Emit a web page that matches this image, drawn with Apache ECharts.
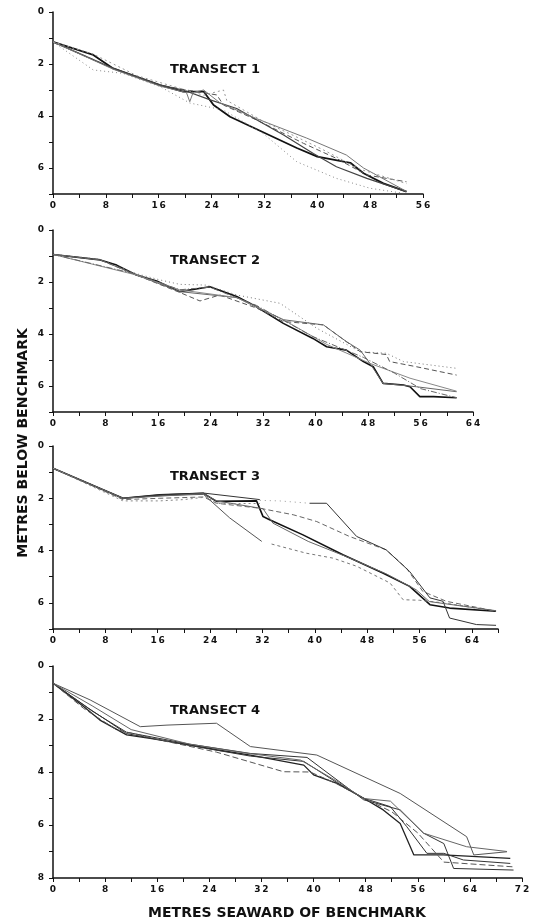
<!DOCTYPE html>
<html>
<head>
<meta charset="utf-8">
<script src="https://cdn.jsdelivr.net/npm/echarts@6/dist/echarts.min.js"></script>
<style>
  html, body { margin: 0; padding: 0; background: #fff; }
  #chart { width: 535px; height: 923px; }
</style>
</head>
<body>
<div id="chart"></div>
<script>
// profiles: [metres seaward, metres below benchmark]
const transectNames = ['TRANSECT 1', 'TRANSECT 2', 'TRANSECT 3', 'TRANSECT 4'];
const xMax = [56, 64, 68, 72];
const yMax = [7, 7, 7, 8];

const t1a = [[0,1.15],[6.1,1.65],[9.1,2.17],[12.7,2.49],[16.2,2.81],[19.7,3.06],[22.8,3.06],[24.3,3.58],[26.8,4.03],[36.9,5.23],[40,5.56],[45,5.8],[47,6.2],[50,6.59],[53.5,6.91]];
const t1b = [[0,1.15],[6.1,2.23],[10.6,2.36],[16.2,2.87],[20.7,3.5],[25.8,3.77],[31.8,4.67],[36.9,5.76],[42.9,6.4],[48,6.78],[53,6.97]];
const t1c = [[0,1.15],[9.1,2.17],[16.2,2.81],[20.2,3.0],[24.8,3.19],[25.8,3.58],[30.8,4.15],[37.9,5.05],[42.9,5.63],[47.5,6.27],[53.5,6.53]];
const t1d = [[0,1.15],[9.1,2.17],[16.2,2.81],[19.7,3.0],[23.8,3.38],[27.8,3.71],[34.9,4.73],[39.4,5.44],[42.9,5.95],[47.5,6.4],[53.5,6.91]];
const t1e = [[0,1.15],[9.1,2.2],[16.2,2.85],[20.2,3.1],[20.7,3.45],[21.2,3.1],[22.8,3.0],[25.3,3.5],[30.8,4.1],[38.4,4.85],[44.4,5.5],[47,6.0],[53.5,6.9]];
const t1f = [[0,1.15],[6.1,1.62],[12.7,2.45],[16.7,2.75],[22.8,3.2],[25.8,3.0],[26.3,3.4],[31.8,4.2],[36.4,4.75],[40.9,5.3],[46.5,6.05],[53.5,6.6]];

const t2a = [[0,0.94],[7.2,1.15],[9.7,1.35],[12.7,1.73],[15.8,1.96],[19.3,2.37],[23.9,2.18],[28,2.56],[31,2.95],[35.1,3.59],[39.6,4.17],[41.7,4.49],[44.7,4.62],[47.3,5.06],[48.8,5.26],[50.3,5.9],[53.4,5.96],[54.4,6.03],[55.9,6.41],[58,6.41],[61.5,6.45]];
const t2b = [[0,0.94],[7,1.12],[12.7,1.68],[16.3,1.92],[19.3,2.09],[23.4,2.12],[28,2.5],[34.6,2.82],[40.2,3.78],[46.8,4.68],[50.8,4.74],[53.4,5.06],[61.5,5.32]];
const t2c = [[0,0.94],[7.2,1.15],[12.7,1.73],[19.3,2.4],[22.4,2.73],[25.4,2.5],[31,3.0],[35.1,3.52],[41.2,3.65],[46.8,4.68],[50.8,4.79],[51.3,5.06],[55.4,5.26],[61.5,5.58]];
const t2d = [[0,0.94],[7.2,1.15],[12.7,1.73],[19.3,2.37],[28,2.6],[35.1,3.45],[41.2,3.65],[44.7,4.29],[46.8,4.62],[48.3,5.13],[50.3,5.9],[55.4,6.03],[61.5,6.22]];
const t2e = [[0,0.94],[12.7,1.73],[19.3,2.3],[28,2.6],[35.1,3.45],[41.7,4.4],[48.3,5.13],[54.4,5.7],[61.5,6.2]];
const t2f = [[0,0.94],[12.7,1.7],[19.3,2.3],[23.9,2.2],[31,2.9],[39.6,4.1],[47.3,4.9],[52,5.5],[56,6.1],[61.5,6.45]];

const t3a = [[0,0.85],[10.7,2.0],[16.3,1.87],[23,1.81],[25,2.12],[31.1,2.1],[32.1,2.7],[33.1,2.82],[38.2,3.4],[44.3,4.16],[50.4,4.86],[54.5,5.37],[57.6,6.07],[60.6,6.2],[67.7,6.32]];
const t3b = [[0,0.85],[10.7,2.0],[16.3,1.9],[23,1.85],[27,2.75],[31.9,3.65]];
const t3g = [[33.4,3.75],[38.7,4.1],[42.8,4.29],[46.4,4.6],[51.5,5.24],[53.5,5.88],[56,5.9],[59.6,6.0],[67.7,6.32]];
const t3c = [[0,0.85],[10.7,2.05],[16.3,2.0],[23,1.95],[25,2.19],[31.6,2.38],[36.7,2.63],[37.7,2.7],[40.3,2.89],[45.3,3.46],[50.9,3.97],[54,4.67],[56.5,5.56],[60.1,5.94],[67.7,6.32]];
const t3d = [[0,0.85],[10.7,2.0],[16.3,1.87],[23,1.8],[31.6,2.05]];
const t3h = [[31.6,2.08],[34.6,2.1],[39.2,2.19]];
const t3i = [[39.2,2.19],[41.8,2.19],[46.4,3.46],[50.9,3.97],[54.5,4.8],[57.6,5.81],[59.6,5.94],[60.6,6.58],[64.7,6.83],[67.7,6.86]];
const t3e = [[0,0.85],[10.7,2.0],[23,1.82],[25,2.1],[32.1,2.4],[33.6,2.95],[39,3.65],[45,4.25],[51,4.9],[55.5,5.5],[57.5,5.95],[67.7,6.3]];
const t3f = [[0,0.85],[10.7,2.1],[16.3,2.1],[20,2.05],[23.5,1.95],[25,2.2],[31.6,2.2]];

const t4a = [[0,0.65],[4.7,1.53],[7.2,2.04],[11.3,2.6],[14.9,2.73],[21,2.98],[25.1,3.16],[30.3,3.36],[38.5,3.74],[40,4.11],[43.6,4.43],[47.7,4.99],[50.7,5.43],[53.3,5.94],[55.4,7.13],[59.9,7.13],[70.2,7.26]];
const t4b = [[0,0.65],[5.5,1.6],[11.3,2.55],[21,3.0],[30.3,3.4],[38.5,3.6],[43.6,4.4],[47.7,4.99],[51.8,5.31],[54.3,6.06],[57.4,7.07],[60,7.07],[63,7.32],[70.2,7.45]];
const t4c = [[0,0.65],[6,1.7],[11.3,2.5],[21,2.95],[30.3,3.3],[39,3.45],[43.6,4.3],[47.7,5.05],[53.3,5.43],[56.9,6.31],[60,6.7],[61.5,7.64],[70.7,7.7]];
const t4d = [[0,0.65],[5.7,1.28],[13.4,2.29],[17.5,2.23],[25.1,2.16],[30.3,3.04],[40.5,3.36],[53.3,4.81],[63.5,6.44],[64.6,7.13],[69.7,7.01]];
const t4e = [[0,0.65],[6,1.5],[12,2.4],[21,2.95],[30,3.3],[38,3.55],[43.6,4.35],[47.7,5.0],[51.8,5.1],[56.9,6.31],[63.5,6.82],[69.7,7.0]];
const t4f = [[0,0.65],[4.7,1.6],[9.7,2.4],[17.5,2.85],[25.1,3.25],[35.4,3.99],[39.5,4.0],[43.6,4.45],[47.7,4.99],[52,5.5],[56,6.3],[60,7.4],[70.7,7.58]];

const profiles = [
  [[t1a,'#111',1.8,'solid'],[t1b,'#888',1,[1,3]],[t1c,'#555',1,[5,3]],[t1d,'#444',1.2,'solid'],[t1e,'#777',1,'solid'],[t1f,'#999',1,[2,3]]],
  [[t2a,'#111',1.6,'solid'],[t2b,'#777',1,[1,3]],[t2c,'#555',1,[5,3]],[t2d,'#666',1,'solid'],[t2e,'#888',1,'solid'],[t2f,'#666',1,[6,2,1,2]]],
  [[t3a,'#111',1.6,'solid'],[t3b,'#555',1,'solid'],[t3g,'#777',1,[3,3]],[t3c,'#666',1,[5,3]],[t3d,'#333',1,'solid'],[t3h,'#999',1,[1,4]],[t3i,'#333',1,'solid'],[t3e,'#666',1,'solid'],[t3f,'#888',1,[2,3]]],
  [[t4a,'#222',1.3,'solid'],[t4b,'#333',1,'solid'],[t4c,'#333',1,'solid'],[t4d,'#555',1,'solid'],[t4e,'#666',1,'solid'],[t4f,'#555',1,[6,3]]]
];

const grids = [
  { left: 53, top: 12, width: 370, height: 182 },
  { left: 53, top: 230, width: 420, height: 182 },
  { left: 53, top: 446, width: 445, height: 183 },
  { left: 53, top: 666, width: 469, height: 212 }
];
const titleTops = [58, 249, 465, 699];

const spaced = v => String(v).split('').join('\u2009');
const labelStyle = { color: '#111', fontSize: 9, fontWeight: 'bold', fontFamily: 'DejaVu Sans' };
const axisLine = { onZero: false, lineStyle: { color: '#111', width: 1.5 } };

const series = [];
profiles.forEach((group, gi) => {
  group.forEach(([data, color, width, type]) => {
    series.push({
      type: 'line',
      xAxisIndex: gi,
      yAxisIndex: gi,
      data: data,
      showSymbol: false,
      silent: true,
      lineStyle: { color: color, width: width, type: type }
    });
  });
});

const chart = echarts.init(document.getElementById('chart'));
chart.setOption({
  animation: false,
  backgroundColor: '#fff',
  title: transectNames.map((t, i) => ({
    text: t,
    left: 165,
    top: titleTops[i],
    textStyle: { fontSize: 13, fontWeight: 'bold', fontFamily: 'DejaVu Sans', color: '#111' }
  })),
  grid: grids,
  xAxis: grids.map((g, i) => ({
    type: 'value',
    gridIndex: i,
    min: 0,
    max: xMax[i],
    interval: 4,
    axisLine: axisLine,
    axisTick: { length: 4, lineStyle: { color: '#111' } },
    axisLabel: Object.assign({ margin: 7, formatter: v => (v % 8 === 0 ? spaced(v) : '') }, labelStyle),
    splitLine: { show: false }
  })),
  yAxis: grids.map((g, i) => ({
    type: 'value',
    gridIndex: i,
    inverse: true,
    min: 0,
    max: yMax[i],
    interval: 1,
    axisLine: axisLine,
    axisTick: { length: 4, lineStyle: { color: '#111' } },
    axisLabel: Object.assign({ margin: 9, formatter: v => (v % 2 === 0 ? spaced(v) : '') }, labelStyle),
    splitLine: { show: false }
  })),
  graphic: [
    {
      type: 'text',
      x: 23,
      y: 443,
      rotation: Math.PI / 2,
      style: {
        text: 'METRES BELOW BENCHMARK',
        fontSize: 14,
        fontWeight: 'bold',
        fontFamily: 'DejaVu Sans',
        fill: '#111',
        align: 'center',
        verticalAlign: 'middle'
      }
    },
    {
      type: 'text',
      x: 287,
      y: 913,
      style: {
        text: 'METRES SEAWARD OF BENCHMARK',
        fontSize: 14,
        fontWeight: 'bold',
        fontFamily: 'DejaVu Sans',
        fill: '#111',
        align: 'center',
        verticalAlign: 'middle'
      }
    }
  ],
  series: series
});
</script>
</body>
</html>
